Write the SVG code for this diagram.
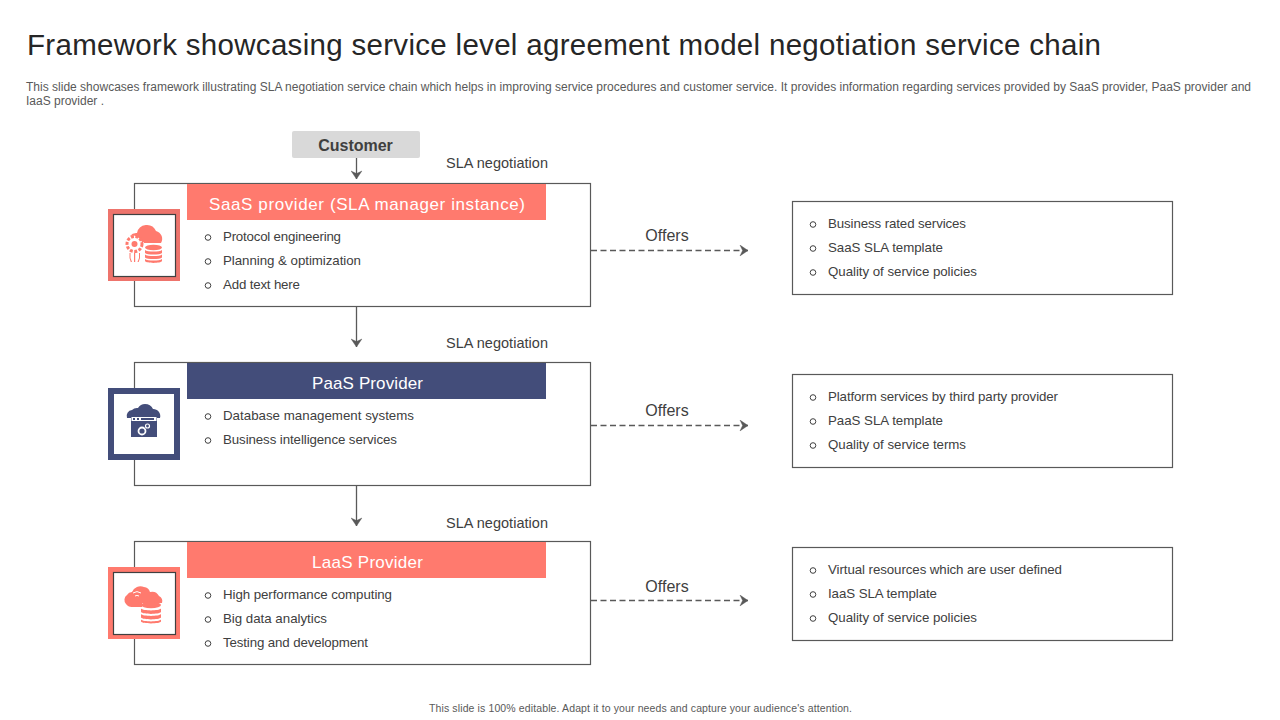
<svg xmlns="http://www.w3.org/2000/svg" width="1280" height="720" viewBox="0 0 1280 720">
<style>
text{font-family:"Liberation Sans",Arial,sans-serif;fill:#404040}
.title{font-size:29.500px;fill:#262626}
.desc{font-size:12px;fill:#595959}
.foot{font-size:10.500px;fill:#595959}
.item{font-size:13.300px}
.sla{font-size:14.500px}
.off{font-size:16px;text-anchor:middle}
.hd{font-size:17px;fill:#fff;text-anchor:middle}
.bul{fill:none;stroke:#404040;stroke-width:1}
.box{fill:#fff;stroke:#595959;stroke-width:1.200}
.conn{fill:none;stroke:#595959;stroke-width:1.300}
.dash{stroke-dasharray:6 3.500}
.salmon{fill:#FF7A6E}
.navy{fill:#434D7A}
</style>
<defs>
<marker id="ah" viewBox="0 0 10 12" refX="9" refY="6" markerWidth="10" markerHeight="12" markerUnits="userSpaceOnUse" orient="auto">
<path d="M1 .6 L9 6 L1 11.400 L3.600 6 Z" fill="#595959" stroke="#595959" stroke-width=".4" stroke-linejoin="round"/>
</marker>
<circle id="b" r="2.800" class="bul"/>
</defs>
<rect width="1280" height="720" fill="#fff"/>
<text class="title" x="27" y="55" textLength="1074" lengthAdjust="spacing">Framework showcasing service level agreement model negotiation service chain</text>
<text class="desc" x="26" y="91" textLength="1225" lengthAdjust="spacing">This slide showcases framework illustrating SLA negotiation service chain which helps in improving service procedures and customer service. It provides information regarding services provided by SaaS provider, PaaS provider and</text>
<text class="desc" x="26" y="105" textLength="78" lengthAdjust="spacing">IaaS provider .</text>

<g id="connectors">
<path class="conn" d="M356.500 158V179" marker-end="url(#ah)"/>
<path class="conn" d="M356.500 306V347" marker-end="url(#ah)"/>
<path class="conn" d="M356.500 485V526" marker-end="url(#ah)"/>
<path class="conn dash" d="M591 250.500H748" marker-end="url(#ah)"/>
<path class="conn dash" d="M591 425.500H748" marker-end="url(#ah)"/>
<path class="conn dash" d="M591 600.500H748" marker-end="url(#ah)"/>
</g>

<g id="customer">
<rect x="292" y="131" width="128" height="27" rx="2" fill="#D9D9D9"/>
<text x="355.500" y="150.500" font-size="16" font-weight="700" text-anchor="middle">Customer</text>
</g>

<g id="saas">
<text class="sla" x="446" y="168" textLength="102" lengthAdjust="spacing">SLA negotiation</text>
<rect class="box" x="134.500" y="183.500" width="456" height="123"/>
<rect class="salmon" x="187" y="184" width="359" height="36"/>
<text class="hd" x="367" y="210" textLength="316" lengthAdjust="spacing">SaaS provider (SLA manager instance)</text>
<rect x="108" y="209" width="72" height="72" fill="#EE746C"/>
<rect x="113.500" y="214.500" width="62" height="62" fill="#fff" stroke="#404040" stroke-width="1.200"/>
<g class="salmon">
<path d="M130 236a8 8 0 0 1 7-3a10 10 0 0 1 19-2a8 8 0 0 1 5 12h-17v-1h-2a10 10 0 0 0-12-6z"/>
<circle cx="134.500" cy="244" r="7.500" fill="none" stroke="#FF7A6E" stroke-width="3" stroke-dasharray="3 1.500"/>
<circle cx="134.500" cy="244" r="3"/>
<path d="M134 253h1.200v9h-1.200zM129.500 253h1v5l1.500 4h-1.200l-1.300-4zM140 253h-1v5l-1.500 4h1.200l1.300-4z"/>
<ellipse cx="153.500" cy="247.500" rx="8.500" ry="2.800"/>
<path d="M145 250c2 2 15 2 17 0v3c-2 2-15 2-17 0zM145 254.500c2 2 15 2 17 0v3c-2 2-15 2-17 0zM145 259c2 2 15 2 17 0v2c-1 2.500-16 2.500-17 0z"/>
</g>
<use href="#b" x="208" y="237.500"/><text class="item" x="223" y="241" textLength="118" lengthAdjust="spacing">Protocol engineering</text>
<use href="#b" x="208" y="261.500"/><text class="item" x="223" y="265" textLength="138" lengthAdjust="spacing">Planning &amp; optimization</text>
<use href="#b" x="208" y="285.500"/><text class="item" x="223" y="289" textLength="77" lengthAdjust="spacing">Add text here</text>
<text class="off" x="667" y="241">Offers</text>
</g>

<g id="saas-offers">
<rect class="box" x="792.500" y="201.500" width="380" height="93"/>
<use href="#b" x="813" y="224.500"/><text class="item" x="828" y="228" textLength="138" lengthAdjust="spacing">Business rated services</text>
<use href="#b" x="813" y="248.500"/><text class="item" x="828" y="252" textLength="115" lengthAdjust="spacing">SaaS SLA template</text>
<use href="#b" x="813" y="272.500"/><text class="item" x="828" y="276" textLength="149" lengthAdjust="spacing">Quality of service policies</text>
</g>

<g id="paas">
<text class="sla" x="446" y="348" textLength="102" lengthAdjust="spacing">SLA negotiation</text>
<rect class="box" x="134.500" y="362.500" width="456" height="123"/>
<rect class="navy" x="187" y="363" width="359" height="36"/>
<text class="hd" x="367.500" y="389" textLength="111" lengthAdjust="spacing">PaaS Provider</text>
<rect x="108" y="388" width="72" height="72" class="navy"/>
<rect x="114" y="394" width="60" height="60" fill="#fff"/>
<g class="navy">
<path d="M127 418a6 6 0 0 1 5-8a7 7 0 0 1 6-2a9 9 0 0 1 7-4a9 9 0 0 1 8 5a7 7 0 0 1 7 9z"/>
<rect x="131" y="417" width="26" height="20"/>
</g>
<rect x="131.500" y="417" width="25" height="4" fill="#fff"/>
<rect x="133" y="418" width="2" height="2" class="navy"/><rect x="137" y="418" width="2" height="2" class="navy"/>
<rect x="141" y="418" width="13" height="2" class="navy"/>
<circle cx="142" cy="431" r="3.500" fill="none" stroke="#fff" stroke-width="1.800"/>
<circle cx="147.500" cy="426" r="2" fill="none" stroke="#fff" stroke-width="1.200"/>
<use href="#b" x="208" y="416.500"/><text class="item" x="223" y="420" textLength="191" lengthAdjust="spacing">Database management  systems</text>
<use href="#b" x="208" y="440.500"/><text class="item" x="223" y="444" textLength="174" lengthAdjust="spacing">Business intelligence services</text>
<text class="off" x="667" y="416">Offers</text>
</g>

<g id="paas-offers">
<rect class="box" x="792.500" y="374.500" width="380" height="93"/>
<use href="#b" x="813" y="397.500"/><text class="item" x="828" y="401" textLength="230" lengthAdjust="spacing">Platform services  by third  party provider</text>
<use href="#b" x="813" y="421.500"/><text class="item" x="828" y="425" textLength="115" lengthAdjust="spacing">PaaS SLA template</text>
<use href="#b" x="813" y="445.500"/><text class="item" x="828" y="449" textLength="138" lengthAdjust="spacing">Quality of service terms</text>
</g>

<g id="laas">
<text class="sla" x="446" y="528" textLength="102" lengthAdjust="spacing">SLA negotiation</text>
<rect class="box" x="134.500" y="541.500" width="456" height="123"/>
<rect class="salmon" x="187" y="542" width="359" height="36"/>
<text class="hd" x="367.500" y="568" textLength="111" lengthAdjust="spacing">LaaS Provider</text>
<rect x="108" y="567" width="72" height="72" fill="#FF7A6E"/>
<rect x="113.500" y="572.500" width="62" height="62" fill="#fff" stroke="#404040" stroke-width="1.200"/>
<g class="salmon">
<path d="M126 604a6 6 0 0 1 1-9a6 6 0 0 1 5-3a9 9 0 0 1 12-5a7 7 0 0 1 6 5a8 8 0 0 1 9 4a6 6 0 0 1 3 7h-20v4h-10a7 7 0 0 1-6-3z"/>
<ellipse cx="151" cy="605" rx="10" ry="3.200"/>
<path d="M141 608.500c2 2.500 18 2.500 20 0v3.500c-2 2.500-18 2.500-20 0zM141 614c2 2.500 18 2.500 20 0v3.500c-2 2.500-18 2.500-20 0zM141 619.500c2 2.500 18 2.500 20 0v2c-1 2.500-19 2.500-20 0z"/>
</g>
<path d="M133 593a7 7 0 0 1 8 0M135 596a4 4 0 0 1 4 0" fill="none" stroke="#fff" stroke-width="1"/>
<use href="#b" x="208" y="595.500"/><text class="item" x="223" y="599" textLength="169" lengthAdjust="spacing">High performance  computing</text>
<use href="#b" x="208" y="619.500"/><text class="item" x="223" y="623" textLength="104" lengthAdjust="spacing">Big data analytics</text>
<use href="#b" x="208" y="643.500"/><text class="item" x="223" y="647" textLength="145" lengthAdjust="spacing">Testing and development</text>
<text class="off" x="667" y="592">Offers</text>
</g>

<g id="laas-offers">
<rect class="box" x="792.500" y="547.500" width="380" height="93"/>
<use href="#b" x="813" y="570.500"/><text class="item" x="828" y="574" textLength="234" lengthAdjust="spacing">Virtual resources  which are  user defined</text>
<use href="#b" x="813" y="594.500"/><text class="item" x="828" y="598" textLength="109" lengthAdjust="spacing">IaaS SLA template</text>
<use href="#b" x="813" y="618.500"/><text class="item" x="828" y="622" textLength="149" lengthAdjust="spacing">Quality of service policies</text>
</g>

<text class="foot" x="429" y="712" textLength="423" lengthAdjust="spacing">This slide is 100% editable.  Adapt it to your needs and capture your audience's attention.</text>
</svg>
